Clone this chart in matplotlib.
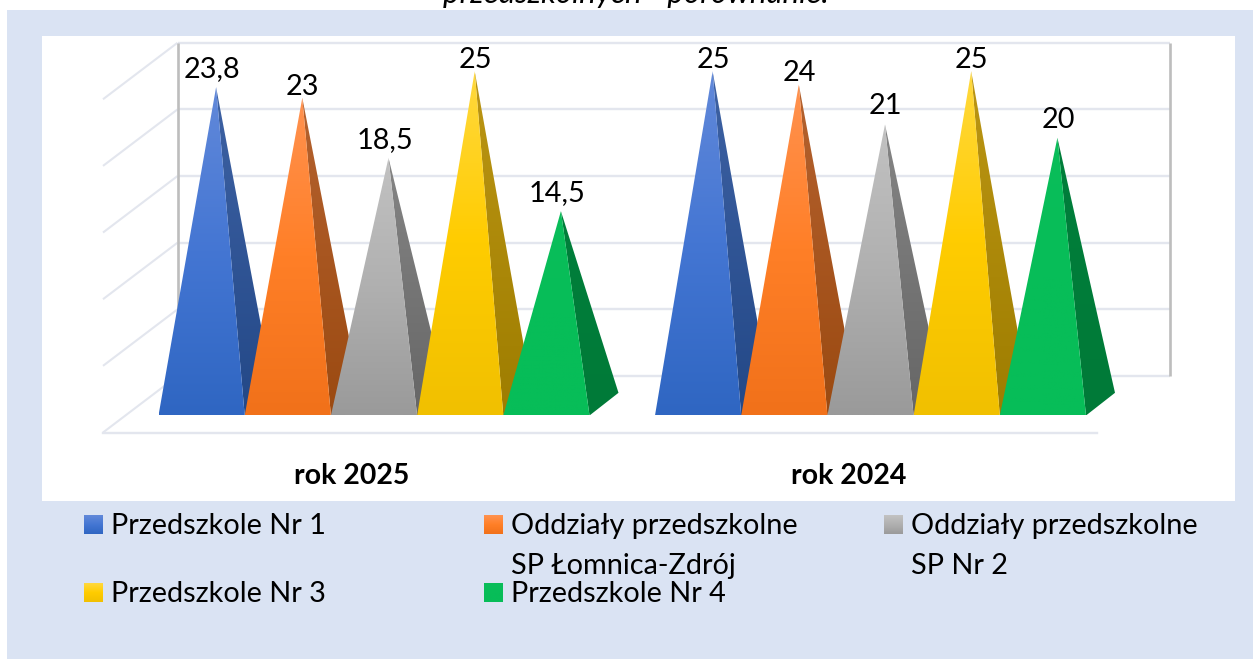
import numpy as np
import matplotlib
matplotlib.use('Agg')
import matplotlib.pyplot as plt
from matplotlib.colors import LinearSegmentedColormap
from matplotlib.patches import Polygon, Rectangle

# --- data ---
years = ['rok 2025', 'rok 2024']
series = ['Przedszkole Nr 1', 'Oddziały przedszkolne\nSP Łomnica-Zdrój', 'Oddziały przedszkolne\nSP Nr 2',
          'Przedszkole Nr 3', 'Przedszkole Nr 4']
values_2025 = [23.8, 23, 18.5, 25, 14.5]
values_2024 = [25, 24, 21, 25, 20]
grid_values = [0, 5, 10, 15, 20, 25]
title_tail = 'przedszkolnych - porównanie.'

# front face gradient top / middle / bottom, side face top / bottom
front_cols = [['#6289DA', '#4476D3', '#2F66C2'],
              ['#FF9250', '#FF7F27', '#F1711A'],
              ['#C2C2C2', '#B0B0B0', '#9A9A9A'],
              ['#FFD93F', '#FFCC00', '#F1C000'],
              ['#0ABE5A', '#07BD58', '#07BD58']]
side_cols = [['#3E62A4', '#234887'],
             ['#B5622F', '#9B4A11'],
             ['#858585', '#666666'],
             ['#BC9614', '#9E7D00'],
             ['#007F3B', '#007A38']]

# --- layout in pixels ---
W, H = 1253, 659
BASE = 415.5      # front edge of the floor under the pyramids
ZERO = 404.4      # level of value 0 at pyramid centre
PX = 13.33        # pixels per unit
BAR_W = 86.2
DX, DY = 29, 22.7 # depth of a pyramid
GROUP_X = [158.5, 655]
WALL_L, WALL_R = 177.5, 1170
WALL_ZERO = 376.0
SIDE_X, SIDE_DY = 103, 56.5

fig = plt.figure(figsize=(W / 100, H / 100), dpi=100)
ax = fig.add_axes([0, 0, 1, 1])
ax.axis('off')
plt.rcParams['font.family'] = ['Lato', 'DejaVu Sans']


def val_y(v):
    return ZERO - PX * v


def wall_y(v):
    return WALL_ZERO - PX * v


def grad_poly(pts, cols, z):
    pts = np.array(pts)
    cmap = LinearSegmentedColormap.from_list('g', cols)
    grad = np.linspace(0, 1, 256).reshape(-1, 1)
    im = ax.imshow(grad, cmap=cmap, aspect='auto', zorder=z,
                   extent=[pts[:, 0].min(), pts[:, 0].max(), pts[:, 1].max(), pts[:, 1].min()])
    im.set_clip_path(Polygon(pts, closed=True, transform=ax.transData))


# background panels
ax.add_patch(Rectangle((7, 10), W - 7, H - 10, fc='#DAE3F3', ec='none', zorder=0))
ax.add_patch(Rectangle((42, 36), 1193, 465, fc='white', ec='none', zorder=0.5))

ax.text(636, 3, title_tail, ha='center', va='baseline', fontsize=22.6, style='italic', color='black', zorder=1)

# walls and gridlines
grid_c = '#E3E6EE'
for v in grid_values:
    y = wall_y(v)
    ax.plot([SIDE_X, WALL_L], [y + SIDE_DY, y], color=grid_c, lw=1.5, zorder=1, solid_capstyle='butt')
    ax.plot([WALL_L, WALL_R], [y, y], color=grid_c, lw=1.7, zorder=1, solid_capstyle='butt')
ax.plot([SIDE_X, 1097], [wall_y(0) + SIDE_DY, wall_y(0) + SIDE_DY], color=grid_c, lw=1.7, zorder=1)
for x in (WALL_L, WALL_R):
    ax.plot([x, x], [wall_y(grid_values[-1]), wall_y(0)], color='#BDBDBD', lw=1.9, zorder=1.5, solid_capstyle='butt')

# pyramids, left to right so each front covers the previous side face
z = 2
for gx, vals, year in zip(GROUP_X, [values_2025, values_2024], years):
    for i, v in enumerate(vals):
        x0 = gx + i * BAR_W
        x1 = x0 + BAR_W
        apex = ((x0 + x1) / 2 + DX / 2, val_y(v))
        grad_poly([apex, (x1, BASE), (x1 + DX, BASE - DY)], side_cols[i], z)
        grad_poly([apex, (x1, BASE), (x0, BASE)], front_cols[i], z + 0.1)
        z += 0.2
        # labels with a comma sit higher in the picture
        off = 18 if v != int(v) or v in (20, 21) else 11
        shift = -4 if v != int(v) else 0.5
        ax.text(apex[0] + shift, apex[1] - off, f'{v:g}'.replace('.', ','), ha='center', va='center',
                fontsize=20.8, color='black', zorder=10)
    ax.text(gx + 193.5, 476, year, ha='center', va='center', fontsize=20.5,
            fontweight='bold', color='black', zorder=10)

# legend
leg_x = [84, 484, 884, 84, 484]
leg_y = [524.5, 524.5, 524.5, 592.5, 592.5]
for name, cols, lx, ly in zip(series, front_cols, leg_x, leg_y):
    grad_poly([(lx, ly - 9.5), (lx + 19, ly - 9.5), (lx + 19, ly + 9.5), (lx, ly + 9.5)], cols, 5)
    for k, line in enumerate(name.split('\n')):
        ax.text(lx + 27, ly + 1.5 + k * 40, line, ha='left', va='center', fontsize=20.8, color='black', zorder=10)

ax.set_xlim(0, W)
ax.set_ylim(H, 0)
fig.savefig('out.png', dpi=100, facecolor='white')
